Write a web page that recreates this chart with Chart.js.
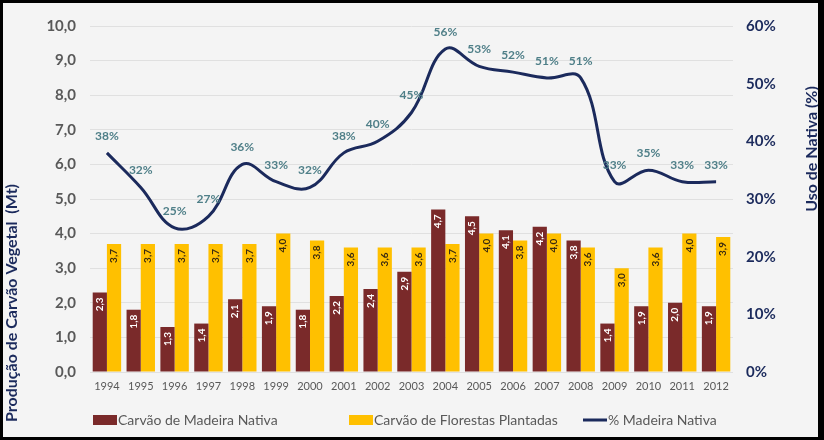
<!DOCTYPE html>
<html>
<head>
<meta charset="utf-8">
<script src="https://cdn.jsdelivr.net/npm/chart.js@4.4.1/dist/chart.umd.min.js"></script>
<style>
  html, body { margin: 0; padding: 0; background: #000; width: 824px; height: 440px; overflow: hidden; }
  #wrap { position: absolute; left: 3px; top: 3px; width: 815px; height: 434px; background: #f4f4f4; }
</style>
</head>
<body>
<div id="wrap"><canvas id="c"></canvas></div>
<script>
const years = ['1994','1995','1996','1997','1998','1999','2000','2001','2002','2003','2004','2005','2006','2007','2008','2009','2010','2011','2012'];
const carvaoNativa = [2.3,1.8,1.3,1.4,2.1,1.9,1.8,2.2,2.4,2.9,4.7,4.5,4.1,4.2,3.8,1.4,1.9,2.0,1.9];
const carvaoPlantadas = [3.7,3.7,3.7,3.7,3.7,4.0,3.8,3.6,3.6,3.6,3.7,4.0,3.8,4.0,3.6,3.0,3.6,4.0,3.9];
const pctNativa = [38,32,25,27,36,33,32,38,40,45,56,53,52,51,51,33,35,33,33];
const seriesNames = ['Carvão de Madeira Nativa','Carvão de Florestas Plantadas','% Madeira Nativa'];
const leftTitle = 'Produção de Carvão Vegetal  (Mt)';
const rightTitle = 'Uso de Nativa (%)';

const BROWN = '#7a2a2a', YELLOW = '#ffc000', NAVY = '#1b2a5c';
const FONT = 'Lato, "Open Sans", sans-serif';

const fmt1 = v => v.toFixed(1).replace('.', ',');

const labelPlugin = {
  id: 'labels',
  afterDatasetsDraw(chart) {
    const ctx = chart.ctx;
    ctx.save();
    [0, 1].forEach(di => {
      const meta = chart.getDatasetMeta(di);
      const vals = chart.data.datasets[di].data;
      meta.data.forEach((bar, i) => {
        ctx.save();
        ctx.translate(bar.x, bar.y + 5);
        ctx.rotate(-Math.PI / 2);
        ctx.font = 'bold 10px ' + FONT;
        ctx.fillStyle = di === 0 ? '#ffffff' : '#3b2b10';
        ctx.textAlign = 'right';
        ctx.textBaseline = 'middle';
        ctx.fillText(fmt1(vals[i]), 0, 0);
        ctx.restore();
      });
    });
    const lm = chart.getDatasetMeta(2);
    const lv = chart.data.datasets[2].data;
    ctx.font = 'bold 12px ' + FONT;
    ctx.fillStyle = '#4f7f88';
    ctx.textAlign = 'center';
    ctx.textBaseline = 'middle';
    lm.data.forEach((pt, i) => {
      ctx.fillText(lv[i] + '%', pt.x, pt.y - 17);
    });
    ctx.restore();
  },
  afterDraw(chart) {
    const ctx = chart.ctx;
    ctx.save();
    ctx.font = 'bold 16px ' + FONT;
    ctx.fillStyle = NAVY;
    ctx.textAlign = 'center';
    ctx.textBaseline = 'middle';
    ctx.save();
    ctx.translate(9, 300);
    ctx.rotate(-Math.PI / 2);
    ctx.fillText(leftTitle, 0, 0);
    ctx.restore();
    ctx.save();
    ctx.translate(809, 146);
    ctx.rotate(-Math.PI / 2);
    ctx.fillText(rightTitle, 0, 0);
    ctx.restore();
    ctx.font = '14px ' + FONT;
    ctx.textAlign = 'left';
    ctx.textBaseline = 'middle';
    const ly = 417;
    ctx.fillStyle = BROWN; ctx.fillRect(90, ly - 5, 24, 10);
    ctx.fillStyle = '#595959'; ctx.fillText(seriesNames[0], 115, ly);
    ctx.fillStyle = YELLOW; ctx.fillRect(346, ly - 5, 24, 10);
    ctx.fillStyle = '#595959'; ctx.fillText(seriesNames[1], 371, ly);
    ctx.strokeStyle = NAVY; ctx.lineWidth = 3;
    ctx.beginPath(); ctx.moveTo(580, ly); ctx.lineTo(604, ly); ctx.stroke();
    ctx.fillStyle = '#595959'; ctx.fillText(seriesNames[2], 605, ly);
    ctx.restore();
  }
};

new Chart(document.getElementById('c'), {
  data: {
    labels: years,
    datasets: [
      { type: 'bar', label: seriesNames[0], data: carvaoNativa, backgroundColor: BROWN, yAxisID: 'y', order: 2,
        categoryPercentage: 0.84, barPercentage: 1.0 },
      { type: 'bar', label: seriesNames[1], data: carvaoPlantadas, backgroundColor: YELLOW, yAxisID: 'y', order: 2,
        categoryPercentage: 0.84, barPercentage: 1.0 },
      { type: 'line', label: seriesNames[2], data: pctNativa, borderColor: NAVY, borderWidth: 3, pointRadius: 0,
        tension: 0.4, yAxisID: 'y1', order: 0, fill: false }
    ]
  },
  options: {
    responsive: true,
    maintainAspectRatio: false,
    animation: false,
    layout: { padding: { top: 14, left: 0, right: 0, bottom: 0 } },
    plugins: { legend: { display: false }, tooltip: { enabled: false } },
    scales: {
      x: {
        grid: { display: false, drawTicks: false },
        border: { display: false },
        ticks: { color: '#595959', font: { family: FONT, size: 11 }, padding: 8, maxRotation: 0, autoSkip: false },
        afterFit(s) { s.height = 65; }
      },
      y: {
        position: 'left', min: 0, max: 10,
        grid: { color: '#e0e0e0', drawTicks: false, lineWidth: 1 },
        border: { display: false },
        ticks: { stepSize: 1, color: '#595959', font: { family: FONT, size: 15, weight: 'bold' }, padding: 14,
          callback: v => fmt1(v) },
        afterFit(s) { s.width = 87; }
      },
      y1: {
        position: 'right', min: 0, max: 60,
        grid: { drawOnChartArea: false, drawTicks: false },
        border: { display: false },
        ticks: { stepSize: 10, color: NAVY, font: { family: FONT, size: 15, weight: 'bold' }, padding: 13,
          callback: v => v + '%' },
        afterFit(s) { s.width = 85; }
      }
    }
  },
  plugins: [labelPlugin]
});
</script>
</body>
</html>
